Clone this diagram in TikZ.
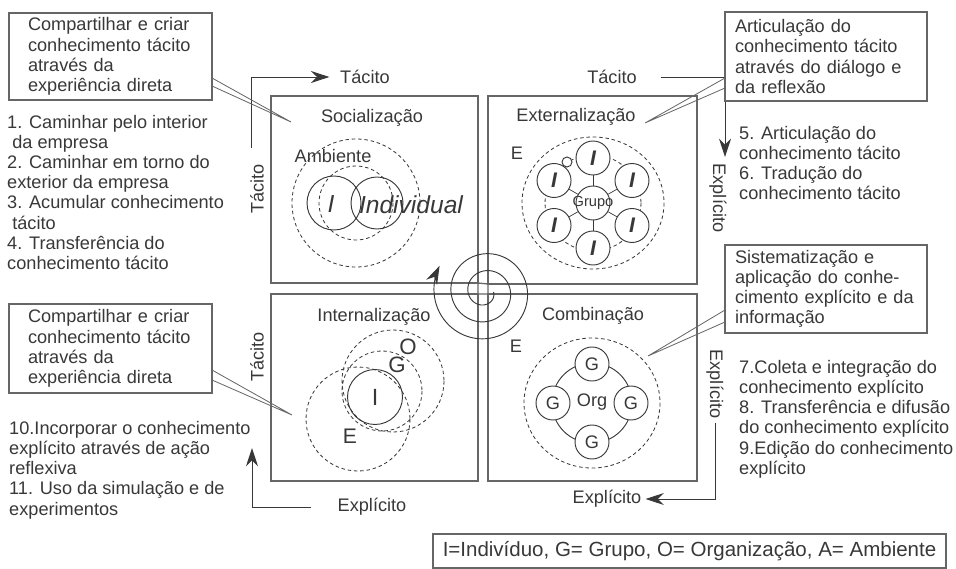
\documentclass[tikz,border=0pt]{standalone}
\usepackage{fontspec}
\setmainfont{Liberation Sans}
\usetikzlibrary{arrows.meta, calc}
\definecolor{ink}{gray}{0.22}
\definecolor{edge}{gray}{0.4}

\begin{document}
\begin{tikzpicture}[x=0.03cm, y=-0.03cm, font=\fontsize{15.5}{17.2}\selectfont, text=ink, quadbox/.style={draw=edge, line width=1.1pt, inner sep=0pt, outer sep=0pt}, notebox/.style={draw=edge, line width=0.9pt, anchor=north west, align=left, inner ysep=0pt, outer sep=0pt}, pointerline/.style={draw=edge, line width=0.7pt}, flow/.style={draw=ink, line width=0.8pt}, flowtip/.style={-{Stealth[length=5.5mm, width=3.6mm, inset=1.8mm]}}, halo/.style={draw=ink, line width=0.7pt, dash pattern=on 3pt off 2.4pt}, unitcircle/.style={circle, draw=ink, line width=0.8pt, fill=white, inner sep=0pt, minimum size=1.02cm}, stepslist/.style={anchor=north west, align=left, inner sep=0pt}, axislabel/.style={inner sep=0.12cm}]
\useasboundingbox (0,0) rectangle (956,569);
\node[quadbox, minimum width=6.21cm, minimum height=5.61cm] (socbox) at (374.5,189.5) {};
\node[quadbox, minimum width=6.27cm, minimum height=5.64cm] (extbox) at (592.5,190) {};
\node[quadbox, minimum width=6.21cm, minimum height=5.61cm] (intbox) at (374.5,387.5) {};
\node[quadbox, minimum width=6.27cm, minimum height=5.61cm] (combbox) at (592.5,387.5) {};
\draw[draw=edge, line width=1.1pt] (socbox.south east) -- (intbox.north east) (extbox.south west) -- (combbox.north west) (socbox.south east) -- (extbox.south west) (intbox.north east) -- (combbox.north west);
\draw[flow, flowtip] plot[domain=0:930, samples=240, smooth, variable=\t] ({485+(8.5+\t*17/360)*cos(\t)}, {292+(8.5+\t*17/360)*sin(\t)});
\node (soct) at (372,118) {Socialização};
\draw[halo] (356,203) circle[radius=64] (356,203) circle[radius=37];
\node (ambiente) at (333,156) {Ambiente};
\draw[flow] (334,203) circle[radius=27] (377,203) circle[radius=26];
\node[font=\fontsize{21}{24}\selectfont\itshape] (soci) at (331,204) {I};
\node[font=\fontsize{21}{24}\selectfont\itshape] (individual) at (411,205) {Individual};
\node (extt) at (576,117) {Externalização};
\node (exte) at (517,153) {E};
\draw[halo] (593,203) ellipse[x radius=71, y radius=66] (593,203) circle[radius=48];
\node[unitcircle, label={[font=\fontsize{12.5}{14}\selectfont]center:Grupo}] (grupo) at (593,203) {};
\foreach \a in {30,90,...,330} {\node[unitcircle, font=\fontsize{18}{20}\selectfont\bfseries\itshape] (ind\a) at ($(grupo)+(\a:45)$) {I}; \draw[flow, line width=0.6pt] (grupo) -- (ind\a);}
\node[unitcircle, minimum size=0.3cm] (dot) at (567,162) {};
\node (combt) at (593,316) {Combinação};
\node (combe) at (516,346) {E};
\draw[halo] (592,403) ellipse[x radius=68, y radius=65];
\draw[flow] (592,403) circle[radius=40];
\node (org) at (592,402) {Org};
\foreach \a in {0,90,180,270} \node[unitcircle] (grp\a) at ($(592,403)+(\a:39)$) {G};
\node (intt) at (374,317) {Internalização};
\draw[halo] (393,381) circle[radius=51] (382,391) circle[radius=40] (358,419) circle[radius=52];
\node[circle, draw=ink, line width=0.8pt, minimum size=1.65cm, inner sep=0pt, font=\fontsize{20}{22}\selectfont] (inti) at (375,397) {I};
\node[font=\fontsize{19}{21}\selectfont] (intg) at (397,365) {G};
\node[font=\fontsize{19}{21}\selectfont] (into) at (408,347) {O};
\node[font=\fontsize{18}{20}\selectfont] (inte) at (350,436) {E};
\node[axislabel, anchor=west] (tacTL) at (336,77) {Tácito};
\node[axislabel, rotate=90] (tacL1) at (257,189) {Tácito};
\coordinate (tlstart) at (251,148);
\draw[flow, flowtip, shorten >=0.2cm] (tlstart) |- (tacTL.west);
\node[axislabel] (tacTR) at (612,77) {Tácito};
\node[axislabel, rotate=-90] (expTR) at (718,198) {Explícito};
\coordinate (trend) at (725,157);
\draw[flow, flowtip, shorten <=0.6cm] (tacTR.east) -| (trend);
\node[axislabel, rotate=90] (tacL2) at (257,357) {Tácito};
\node[axislabel, rotate=-90] (expBR) at (715,384) {Explícito};
\node[axislabel] (expB) at (607,499) {Explícito};
\draw[flow, flowtip] (expBR.east) |- (expB.east);
\node[axislabel] (expBL) at (372,507) {Explícito};
\coordinate (blend) at (252,448);
\draw[flow, flowtip, shorten <=0.66cm] (expBL.west) -| (blend);
\node[notebox, text width=4.95cm, inner xsep=0.57cm, minimum height=2.61cm] (sharetop) at (9,13) {Compartilhar e criar\\conhecimento tácito\\através da\\experiência direta};
\coordinate (soctip) at (291,122);
\draw[pointerline] ($(sharetop.north east)+(0,65)$) -- (soctip) -- ($(sharetop.north east)+(0,73)$);
\node[notebox, text width=5.46cm, inner xsep=0.3cm, minimum height=2.67cm] (articul) at (725,12) {Articulação do\\conhecimento tácito\\através do diálogo e\\da reflexão};
\coordinate (exttip) at (645,123);
\draw[pointerline] ($(articul.north west)+(0,66)$) -- (exttip) -- ($(articul.north west)+(0,76)$);
\node[notebox, text width=4.95cm, inner xsep=0.57cm, minimum height=2.67cm] (sharebot) at (9,304) {Compartilhar e criar\\conhecimento tácito\\através da\\experiência direta};
\coordinate (inttip) at (292,415);
\draw[pointerline] ($(sharebot.north east)+(0,66)$) -- (inttip) -- ($(sharebot.north east)+(0,76)$);
\node[notebox, text width=5.46cm, inner xsep=0.3cm, minimum height=2.64cm] (sistem) at (725,245) {Sistematização e\\aplicação do conhe-\\cimento explícito e da\\informação};
\coordinate (combtip) at (648,356);
\draw[pointerline] ($(sistem.north west)+(0,65)$) -- (combtip) -- ($(sistem.north west)+(0,77)$);
\node[stepslist] (steps1) at (7,115) {1. Caminhar pelo interior\\\hspace*{0.28em}da empresa\\2. Caminhar em torno do\\exterior da empresa\\3. Acumular conhecimento\\\hspace*{0.28em}tácito\\4. Transferência do\\conhecimento tácito};
\node[stepslist] (steps2) at (739,126) {5. Articulação do\\conhecimento tácito\\6. Tradução do\\conhecimento tácito};
\node[stepslist] (steps3) at (739,360) {7.Coleta e integração do\\conhecimento explícito\\8. Transferência e difusão\\do conhecimento explícito\\9.Edição do conhecimento\\explícito};
\node[stepslist] (steps4) at (9,421) {10.Incorporar o conhecimento\\explícito através de ação\\reflexiva\\11. Uso da simulação e de\\experimentos};
\node[draw=edge, line width=0.9pt, minimum width=15.39cm, minimum height=1.02cm, font=\fontsize{17.5}{20}\selectfont] (legend) at (689.5,551) {I=Indivíduo, G= Grupo, O= Organização, A= Ambiente};
\end{tikzpicture}
\end{document}
